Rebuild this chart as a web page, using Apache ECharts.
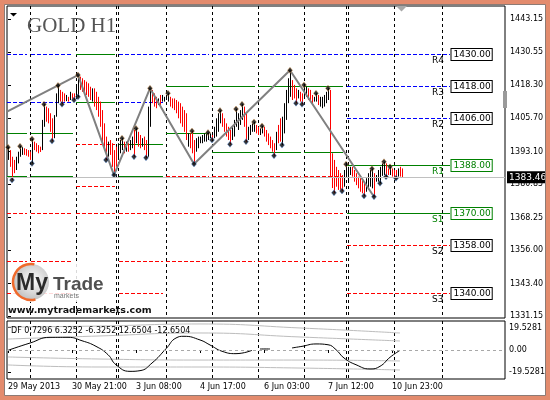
<!DOCTYPE html>
<html><head><meta charset="utf-8">
<script src="https://cdn.jsdelivr.net/npm/echarts@6/dist/echarts.min.js"></script>
<style>html,body{margin:0;padding:0;background:#fff}#c{width:550px;height:400px}</style>
</head><body><div id="c"></div>
<script>
// ---- data ----
const barUp = [
1,0,0,0,1,1,1,1,0,0, 0,0,1,0,0,0,0,1,1,0, 0,0,0,1,1,1,0,0,0,1, 0,1,0,0,1,1,0,0,0,0,
0,0,1,0,0,0,0,0,0,0, 1,0,0,0,0,1,1,1,0,1, 0,1,1,0,1,0,0,1,0,0, 1,1,0,0,0,1,0,1,1,1,
1,0,0,0,0,0,0,0,0,0, 1,0,0,0,1,1,1,1,1,1, 1,1,0,1,1,1,1,0,0,0, 0,0,1,1,1,1,1,1,0,0,
1,1,1,1,0,0,1,1,0,0, 0,0,0,0,1,0,0,1,1,1, 1,1,0,0,0,1,0,0,1,1, 0,0,0,1,1,0,1,1,1,1,
1,0,0,0,0,0,0,0,1,1, 1,1,0,0,0,0,0,0,0,1, 1,1,1,0,1,1,1,1,1,0, 0,1,0,0,0,1,0,0];
const barHigh = [
1394.8,1393.7,1391.2,1390.0,1391.2,1393.1,1395.2,1394.8,1394.4,1394.1,
1393.7,1393.1,1397.9,1396.9,1396.3,1395.6,1395.0,1405.1,1411.0,1410.1,
1409.5,1407.6,1405.7,1406.9,1415.1,1418.1,1416.4,1415.7,1415.1,1414.5,
1413.8,1415.7,1415.1,1415.1,1417.6,1422.0,1421.4,1420.8,1420.1,1419.5,
1418.9,1417.6,1417.0,1417.0,1415.7,1413.8,1412.0,1408.8,1403.8,1398.8,
1396.9,1397.5,1396.3,1393.7,1395.0,1396.3,1397.5,1398.2,1396.9,1396.9,
1396.3,1397.5,1398.8,1401.3,1401.9,1400.6,1399.4,1398.2,1398.8,1397.5,
1410.1,1417.0,1416.4,1415.1,1413.8,1413.2,1414.5,1414.5,1413.8,1414.5,
1415.1,1413.8,1413.2,1413.2,1412.6,1412.0,1411.4,1410.1,1408.8,1407.6,
1400.0,1400.0,1400.9,1397.5,1398.2,1398.8,1398.8,1399.4,1400.0,1400.0,
1400.3,1400.0,1399.4,1402.5,1405.7,1407.6,1408.6,1407.6,1405.7,1403.8,
1402.5,1401.3,1402.5,1405.1,1409.2,1407.6,1408.8,1411.0,1410.1,1407.6,
1402.5,1403.2,1403.8,1404.3,1403.2,1402.5,1401.9,1402.8,1402.5,1401.3,
1400.0,1398.8,1397.5,1396.3,1400.6,1403.2,1405.7,1406.3,1411.4,1416.4,
1420.8,1423.8,1420.1,1418.3,1417.0,1416.4,1415.7,1415.1,1418.3,1417.6,
1417.0,1416.4,1414.5,1413.8,1415.1,1414.5,1413.8,1413.8,1414.5,1415.7,
1417.0,1416.4,1392.5,1390.0,1387.4,1386.2,1385.0,1384.3,1386.2,1388.4,
1387.4,1387.4,1387.4,1386.2,1385.0,1383.7,1383.1,1382.4,1381.2,1383.1,
1385.0,1386.2,1386.7,1385.0,1384.3,1386.2,1387.4,1388.7,1389.3,1388.7,
1386.8,1387.4,1386.8,1386.2,1386.2,1386.8,1387.4,1386.8];
const barLow = [
1390.0,1387.4,1382.4,1385.0,1386.2,1388.7,1391.2,1391.9,1391.9,1391.6,
1391.2,1390.0,1388.7,1393.7,1393.1,1392.5,1393.0,1393.7,1402.5,1404.4,
1403.8,1400.6,1397.1,1398.2,1406.3,1411.4,1412.0,1411.0,1412.0,1412.2,
1412.0,1412.6,1412.9,1412.6,1413.8,1413.8,1416.4,1415.7,1415.1,1414.5,
1413.8,1412.6,1412.0,1410.1,1408.8,1406.3,1402.5,1396.3,1393.7,1390.0,
1391.2,1391.9,1387.4,1384.3,1387.4,1390.0,1392.5,1393.7,1392.5,1393.1,
1393.1,1393.7,1394.4,1391.2,1396.3,1395.0,1394.4,1395.0,1393.7,1390.8,
1391.2,1402.5,1411.4,1410.1,1409.5,1410.7,1410.7,1412.0,1412.0,1412.6,
1412.0,1410.1,1409.5,1408.8,1407.6,1405.7,1403.8,1402.5,1400.6,1397.5,
1395.0,1394.4,1392.5,1388.5,1393.1,1394.4,1396.3,1396.3,1396.9,1396.9,
1397.5,1398.2,1397.5,1398.2,1398.8,1400.6,1403.8,1402.5,1400.6,1398.8,
1397.5,1395.9,1397.5,1398.8,1402.5,1401.3,1403.2,1405.1,1402.5,1396.9,
1397.5,1399.4,1400.6,1400.6,1400.0,1399.4,1399.4,1400.0,1398.8,1396.9,
1395.6,1394.4,1393.1,1391.6,1393.7,1396.3,1396.9,1395.6,1400.0,1405.1,
1411.4,1413.8,1412.6,1413.2,1411.4,1413.2,1412.0,1411.0,1413.2,1413.8,
1412.6,1412.0,1411.4,1412.0,1412.0,1410.7,1410.1,1409.5,1410.1,1411.4,
1412.6,1383.7,1379.4,1377.6,1379.9,1378.7,1378.7,1378.3,1379.9,1383.7,
1382.4,1384.3,1383.7,1381.8,1380.5,1379.3,1378.0,1377.4,1376.4,1378.0,
1378.7,1379.9,1379.3,1376.1,1381.8,1381.8,1381.2,1384.0,1384.3,1383.7,
1384.3,1384.3,1383.7,1383.6,1383.1,1383.7,1383.7,1383.5];
const lastPrice = 1383.46;
const fractalUp = [0,6,12,18,25,35,57,64,71,80,92,100,106,114,117,123,127,141,148,154,160,169,182,188,191];
const fractalDown = [2,12,22,27,33,35,49,53,63,69,93,102,111,119,133,137,144,147,163,167,178,183,186,189,194];
const zigzag = [[-0.5,1408.2],[35,1422.0],[53,1384.3],[71,1417.0],[93,1388.5],[141,1423.8],[183,1376.1]];
const separators = [11,34,54,55,79,102,125,148,169,170,193,217];
const dayRanges = [[-0.5,9.5],[11.5,32.5],[34,53.5],[55.5,77.5],[79,100.5],[102,123.5],[125,146.5],[148,167.5],[169.5,221]];
const lvA = [[1430,'B'],[1412,'B'],[1400,'G'],[1384,'G'],[1370,'R'],[1352,'R'],[1340,'R']];
const lvB = [[1430,'G'],[1412,'G'],[1396,'R'],[1380,'R'],[1370,'R']];
const lvC = [[1430,'B'],[1412,'B'],[1396,'G'],[1384,'G'],[1370,'R'],[1352,'R'],[1340,'R']];
const lvD = [[1430,'B'],[1418,'G'],[1400,'G'],[1384,'R'],[1370,'R'],[1352,'R']];
const lvE = [[1430,'B'],[1418,'G'],[1393,'G'],[1384,'R'],[1370,'R'],[1352,'R']];
const lvCur = [[1430,'B'],[1418,'B'],[1406,'B'],[1388,'G'],[1370,'G'],[1358,'R'],[1340,'R']];
const lvCurNames = ['R4','R3','R2','R1','S1','S2','S3'];
const dayLevels = [lvA, lvA, lvB, lvC, lvD, lvE, lvE, lvE, lvCur];
const priceTicks = [1443.15,1430.55,1418.30,1405.70,1393.10,1380.85,1368.25,1356.00,1343.40,1331.15];
const xTickIdx = [0,32,64,96,128,160,192];
const xTickLabels = ['29 May 2013','30 May 21:00','3 Jun 08:00','4 Jun 17:00','6 Jun 03:00','7 Jun 12:00','10 Jun 23:00'];
const dfTicks = [19.5281, 0, -19.5281];
const dfTitle = 'DF 0.7296 6.3252 -6.3252 12.6504 -12.6504';
const dfSeg1 = [[0,-0.3],[11,6.1],[21,11.1],[30,11.1],[37,8.1],[44,3.2],[50,-4.1],[54,-12.9],[61,-18.7],[66,-18.1],[72,-11.4],[79,1.1],[84,10.5],[88,12.0],[96,8.8],[101,4.4],[107,-1.1],[114,-3.2],[122,-0.3]];
const dfSeg2 = [[126,0.9],[131,0.9]];
const dfSeg3 = [[142,1.8],[147,3.2],[154,5.3],[160,4.6],[164,0.3],[168,-7.0],[174,-12.9],[181,-16.6],[186,-14.3],[191,-6.4],[196,-0.3]];
const bandU2 = [[0,20.1],[46,21.0],[96,22.8],[146,19.3],[196,14.9]];
const bandU1 = [[0,9.6],[46,12.3],[96,14.9],[146,11.4],[196,7.9]];
const bandL1 = [[0,-6.1],[46,-7.9],[96,-8.8],[146,-8.8],[196,-9.6]];
const bandL2 = [[0,-13.1],[46,-14.9],[96,-14.9],[146,-15.8],[196,-17.5]];

// ---- chart ----
const FONT = 'DejaVu Sans';
const COL = {G:'#008000', R:'#ff0000', B:'#0000ff'};
const segs = [];
dayRanges.forEach((r,d)=>dayLevels[d].forEach(([p,k])=>segs.push({s:r[0],e:r[1],p:p,k:k})));
const curEnd = dayRanges[8][1];

function sepSeries(gi, yv){
  return {type:'custom', xAxisIndex:gi, yAxisIndex:gi, z:1, silent:true,
    data: separators.map(s=>[s,yv]), encode:{x:0,y:1},
    renderItem:(params, api)=>{
      const cs = params.coordSys;
      const x = Math.round(api.coord([api.value(0), yv])[0]) + 0.5;
      return {type:'line', shape:{x1:x,y1:cs.y,x2:x,y2:cs.y+cs.height},
        style:{stroke:'#000', lineWidth:1, lineDash:[3,3]}};
    }};
}
function band(d){ return {type:'line', xAxisIndex:1, yAxisIndex:1, data:d, smooth:0.5, symbol:'none', z:2,
  lineStyle:{color:'#bdbdbd', width:1}}; }
function df(d, extra){ return Object.assign({type:'line', xAxisIndex:1, yAxisIndex:1, data:d, smooth:0.5, symbol:'none', z:3,
  lineStyle:{color:'#000', width:1}}, extra||{}); }

const chart = echarts.init(document.getElementById('c'));
chart.setOption({
  animation:false,
  backgroundColor:'#fff',
  grid:[
    {left:7, right:45, top:6, height:312, show:true, borderColor:'#000', borderWidth:1},
    {left:7, right:45, top:321, height:58, show:true, borderColor:'#000', borderWidth:1}
  ],
  xAxis:[
    {type:'value', gridIndex:0, min:-0.5, max:248.5, show:false},
    {type:'value', gridIndex:1, min:-0.5, max:248.5,
     axisLine:{show:false}, splitLine:{show:false},
     axisTick:{show:true, customValues:xTickIdx, length:3, lineStyle:{color:'#000'}},
     axisLabel:{customValues:xTickIdx, formatter:v=>xTickLabels[xTickIdx.indexOf(v)], align:'left',
       color:'#000', fontFamily:FONT, fontSize:8, margin:4}}
  ],
  yAxis:[
    {type:'value', gridIndex:0, position:'right', min:1330.39, max:1448.05,
     axisLine:{show:false}, splitLine:{show:false},
     axisTick:{show:true, customValues:priceTicks, length:3, lineStyle:{color:'#000'}},
     axisLabel:{customValues:priceTicks, formatter:v=>v.toFixed(2), color:'#000', fontFamily:FONT, fontSize:8, margin:5}},
    {type:'value', gridIndex:1, position:'right', min:-25.4, max:25.4,
     axisLine:{show:false}, splitLine:{show:false},
     axisTick:{show:true, customValues:dfTicks, length:3, lineStyle:{color:'#000'}},
     axisLabel:{customValues:dfTicks, formatter:v=>v===0?'0.00':v.toFixed(4), color:'#000', fontFamily:FONT, fontSize:8, margin:4}}
  ],
  series:[
    sepSeries(0, 1400),
    sepSeries(1, 0),
    {type:'custom', xAxisIndex:0, yAxisIndex:0, z:1, silent:true,
     data: segs.map(s=>[s.s, s.p, s.e]), encode:{x:[0,2], y:1},
     renderItem:(params, api)=>{
       const s = segs[params.dataIndex];
       const a = api.coord([s.s, s.p]), b = api.coord([s.e, s.p]);
       const y = Math.round(a[1]) + 0.5;
       return {type:'line', shape:{x1:a[0],y1:y,x2:b[0],y2:y},
         style:{stroke:COL[s.k], lineWidth:1, lineDash: s.k==='G' ? null : [4,2]}};
     },
     markLine:{silent:true, symbol:['none','none'], animation:false,
       lineStyle:{color:'#c0c0c0', type:'solid', width:1},
       label:{show:true, position:'end', distance:2, formatter:lastPrice.toFixed(2), color:'#fff',
         backgroundColor:'#000', padding:[2,2,1,2], fontFamily:FONT, fontSize:9},
       data:[{yAxis:lastPrice}]}
    },
    {type:'custom', xAxisIndex:0, yAxisIndex:0, z:5, silent:true, clip:false,
     data: lvCur.map(l=>[curEnd, l[0]]), encode:{x:0,y:1},
     renderItem:(params, api)=>{
       const [p,k] = lvCur[params.dataIndex];
       const c = api.coord([curEnd, p]);
       const col = k==='G' ? COL.G : '#000';
       const y = Math.round(c[1]) + 0.5;
       return {type:'group', children:[
         {type:'text', style:{text:lvCurNames[params.dataIndex], x:c[0]-18, y:y+1.5, fill:col,
           font:'9px "DejaVu Sans"', verticalAlign:'top', align:'left'}},
         {type:'text', style:{text:p.toFixed(2), x:Math.round(c[0])+1.5, y:y, fill:col,
           font:'9px "DejaVu Sans"', verticalAlign:'middle', align:'left', lineHeight:10,
           backgroundColor:'#fff', borderColor:col, borderWidth:1, padding:[1,1,0,2]}}
       ]};
     }},
    {type:'custom', xAxisIndex:0, yAxisIndex:0, z:2, silent:true,
     data: barHigh.map((h,i)=>[i, barLow[i], h, barUp[i]]), encode:{x:0, y:[1,2]},
     renderItem:(params, api)=>{
       const i = api.value(0);
       const lo = api.coord([i, api.value(1)]), hi = api.coord([i, api.value(2)]);
       const x = Math.round(lo[0]) + 0.5;
       return {type:'line', shape:{x1:x, y1:lo[1], x2:x, y2:hi[1]},
         style:{stroke: api.value(3) ? '#000' : '#ff0000', lineWidth:1}};
     }},
    {type:'line', xAxisIndex:0, yAxisIndex:0, data:zigzag, symbol:'none', z:3, clip:true,
     lineStyle:{color:'#808080', width:2}},
    {type:'scatter', xAxisIndex:0, yAxisIndex:0, z:4, symbol:'diamond', symbolSize:[5,6],
     data: fractalUp.map(i=>[i, barHigh[i]]), itemStyle:{color:'#000', borderColor:'#e39a4a', borderWidth:0.5}},
    {type:'scatter', xAxisIndex:0, yAxisIndex:0, z:4, symbol:'diamond', symbolSize:[5,6],
     data: fractalDown.map(i=>[i, barLow[i]]), itemStyle:{color:'#000', borderColor:'#4a8ae3', borderWidth:0.5}},
    band(bandU2), band(bandU1), band(bandL1), band(bandL2),
    df(dfSeg1, {markLine:{silent:true, symbol:['none','none'], label:{show:false}, animation:false,
      lineStyle:{color:'#a8a8a8', type:[3,3], width:1}, data:[{yAxis:0}]}}),
    df(dfSeg2), df(dfSeg3)
  ],
  graphic:[
    {type:'text', x:27, y:26, z:50, silent:true, style:{text:'GOLD H1', font:'21px "Liberation Serif"', fill:'#555', verticalAlign:'middle'}},
    {type:'polygon', z:50, silent:true, shape:{points:[[10,13],[17,13],[13.5,16.5]]}, style:{fill:'#000'}},
    {type:'polygon', z:50, silent:true, shape:{points:[[396,6],[407,6],[401.5,11.5]]}, style:{fill:'#a8a8a8'}},
    {type:'rect', z:50, silent:true, shape:{x:503,y:91,width:4,height:17}, style:{fill:'#9a9a9a'}},
    {type:'text', x:11, y:331, z:50, silent:true, style:{text:dfTitle, font:'8px "DejaVu Sans"', fill:'#000', verticalAlign:'middle'}},
    {type:'rect', z:50, silent:true, shape:{x:11,y:262,width:92,height:40}, style:{fill:'rgba(255,255,255,0.85)'}},
    {type:'circle', z:51, silent:true, shape:{cx:31,cy:282,r:18},
     style:{fill:new echarts.graphic.RadialGradient(0.55,0.45,0.6,[{offset:0,color:'#ffffff'},{offset:1,color:'#bdbdbd'}])}},
    {type:'arc', z:52, silent:true, shape:{cx:31,cy:282,r:18,startAngle:Math.PI*0.42,endAngle:Math.PI*1.56,clockwise:true},
     style:{stroke:'#ef6a2c', lineWidth:2.5, fill:null}},
    {type:'text', x:16, y:284, z:53, silent:true, style:{text:'My', font:'bold 23px "Liberation Sans"', fill:'#2b2b2b', verticalAlign:'middle'}},
    {type:'text', x:53, y:285, z:53, silent:true, style:{text:'Trade', font:'bold 19px "Liberation Sans"', fill:'#505050', verticalAlign:'middle'}},
    {type:'text', x:54, y:296, z:53, silent:true, style:{text:'markets', font:'7px "Liberation Sans"', fill:'#777', verticalAlign:'middle'}},
    {type:'text', x:8, y:311, z:53, silent:true, style:{text:'www.mytrademarkets.com', font:'bold 9.5px "DejaVu Sans"', fill:'#111', verticalAlign:'middle'}},
    {type:'rect', z:100, silent:true, shape:{x:0,y:0,width:550,height:400}, style:{fill:null, stroke:'#e38b6d', lineWidth:9}},
    {type:'rect', z:100, silent:true, shape:{x:4.5,y:4.5,width:541,height:391}, style:{fill:null, stroke:'#8c7b75', lineWidth:1}}
  ]
});
</script>
</body></html>
